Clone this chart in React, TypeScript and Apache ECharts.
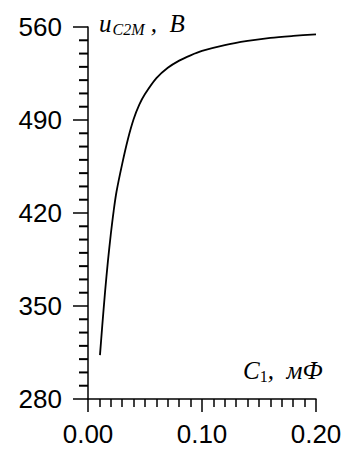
import React, { useEffect, useRef } from "react";
import * as echarts from "echarts";

const capacitance = [0.0105, 0.0125, 0.015, 0.0175, 0.02, 0.0225, 0.025, 0.03, 0.035, 0.04, 0.045, 0.05, 0.06, 0.07, 0.08, 0.09, 0.1, 0.12, 0.14, 0.16, 0.18, 0.2];
const voltage = [313, 335, 361, 384, 404, 421.5, 436, 457, 475.5, 490.5, 501.5, 509.5, 521.5, 529.3, 534.7, 538.7, 542, 546.4, 549.5, 551.8, 553.3, 554.5];
const yTicks = [280, 350, 420, 490, 560];
const xTicks = [0, 0.1, 0.2];
const yMinorStep = 10;

export default function App() {
  const ref = useRef<HTMLDivElement>(null);
  useEffect(() => {
    const chart = echarts.init(ref.current!, undefined, { renderer: "svg" });
    const serif = "'Liberation Serif', 'Times New Roman', serif";
    const yMin = yTicks[0];
    const yMax = yTicks[yTicks.length - 1];
    const minorVals: number[][] = [];
    for (let v = yMin + yMinorStep; v < yMax; v += yMinorStep) {
      if (!yTicks.includes(v)) minorVals.push([0, v]);
    }
    chart.setOption({
      animation: false,
      grid: { left: 88, right: 29, top: 27, bottom: 54 },
      xAxis: {
        type: "value",
        min: xTicks[0],
        max: xTicks[xTicks.length - 1],
        interval: 0.1,
        axisLine: { show: true, onZero: false, lineStyle: { color: "#000", width: 1.5 } },
        axisTick: { show: true, inside: false, length: 13, lineStyle: { color: "#000", width: 1.5 } },
        minorTick: { show: true, splitNumber: 10, length: 8, lineStyle: { color: "#000", width: 1.5 } },
        splitLine: { show: false },
        minorSplitLine: { show: false },
        axisLabel: {
          color: "#000",
          fontSize: 26,
          fontFamily: "'Liberation Sans', Arial, sans-serif",
          margin: 22,
          formatter: (v: number) => v.toFixed(2),
        },
      },
      yAxis: {
        type: "value",
        min: yMin,
        max: yMax,
        interval: 70,
        axisLine: { show: true, onZero: false, lineStyle: { color: "#000", width: 1.5 } },
        axisTick: { show: true, inside: false, length: 15, lineStyle: { color: "#000", width: 1.5 } },
        splitLine: { show: false },
        axisLabel: {
          color: "#000",
          fontSize: 26,
          fontFamily: "'Liberation Sans', Arial, sans-serif",
          margin: 26,
        },
      },
      series: [
        {
          type: "line",
          data: capacitance.map((c, i) => [c, voltage[i]]),
          smooth: 0.3,
          showSymbol: false,
          lineStyle: { color: "#000", width: 1.8 },
        },
        {
          type: "custom",
          coordinateSystem: "cartesian2d",
          silent: true,
          clip: false,
          encode: { x: 0, y: 1 },
          data: minorVals,
          z: 10,
          renderItem: (params: any, api: any) => {
            const p = api.coord([api.value(0), api.value(1)]);
            return {
              type: "rect",
              shape: { x: p[0] - 9, y: p[1] - 1, width: 9, height: 2 },
              style: { fill: "#000" },
            };
          },
        },
      ],
      graphic: [
        {
          type: "text",
          left: 99,
          top: 11,
          style: {
            text: "{a|u}{s|C2M}{a| ,  B}",
            rich: {
              a: { fontFamily: serif, fontStyle: "italic", fontSize: 25, fill: "#000" },
              s: { fontFamily: serif, fontStyle: "italic", fontSize: 16, fill: "#000", padding: [12, 0, 0, 1] },
            },
          },
        },
        {
          type: "text",
          left: 243,
          top: 358,
          style: {
            text: "{a|C}{n|1}{a|,  мФ}",
            rich: {
              a: { fontFamily: serif, fontStyle: "italic", fontSize: 25, fill: "#000" },
              n: { fontFamily: serif, fontSize: 16, fill: "#000", padding: [12, 0, 0, 0] },
            },
          },
        },
      ],
    });
    return () => chart.dispose();
  }, []);
  return <div ref={ref} style={{ width: 345, height: 453, position: "absolute", left: 0, top: 0 }} />;
}
